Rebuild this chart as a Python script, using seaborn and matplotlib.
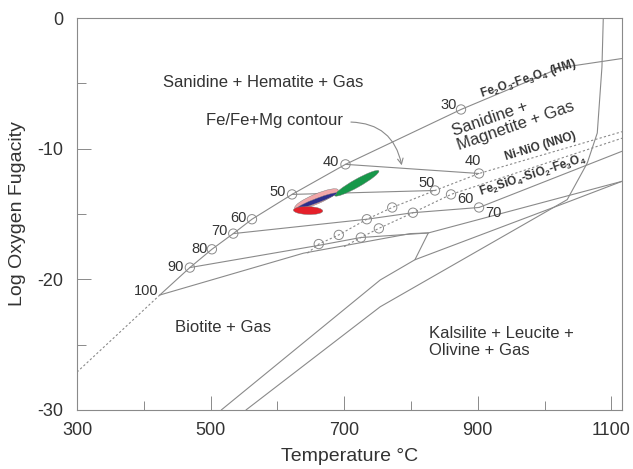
import numpy as np
import pandas as pd
import seaborn as sns
import matplotlib.pyplot as plt
from matplotlib.patches import Ellipse
import matplotlib.transforms as mtransforms

# ---- data (T in degC, log fO2) ----
# upper boundary / HM buffer (dotted part below the 100 end point)
hm_dot_T = [300, 424]
hm_dot_f = [-27.1, -21.2]
hm_T = [424, 469, 502, 534, 562, 622, 702, 875, 1024, 1116]
hm_f = [-21.2, -19.1, -17.7, -16.5, -15.4, -13.5, -11.2, -7.0, -3.8, -3.1]

# Fe/(Fe+Mg) circles on the upper boundary
left_vals = ['90', '80', '70', '60', '50', '40', '30']
left_T = [469, 502, 534, 562, 622, 702, 875]
left_f = [-19.1, -17.7, -16.5, -15.4, -13.5, -11.2, -7.0]

# two dotted buffers (NNO and FMQ) with contour intersections
nno_T = [645, 662, 692, 734, 772, 836, 902, 1116]
nno_f = [-18.0, -17.3, -16.6, -15.4, -14.5, -13.2, -11.9, -8.7]
fmq_T = [700, 725, 752, 803, 860, 1116]
fmq_f = [-17.5, -16.8, -16.1, -14.9, -13.5, -9.2]
nno_circ_T = [662, 692, 734, 772, 836, 902]
nno_circ_f = [-17.3, -16.6, -15.4, -14.5, -13.2, -11.9]
fmq_circ_T = [725, 752, 803, 860, 902]
fmq_circ_f = [-16.8, -16.1, -14.9, -13.5, -14.5]

# contour lines
c40_T, c40_f = [702, 902], [-11.2, -11.9]
c50_T, c50_f = [622, 836], [-13.5, -13.2]
c70_T, c70_f = [534, 734, 803, 902], [-16.5, -15.4, -14.9, -14.5]
c90_T, c90_f = [469, 662, 725, 826], [-19.1, -17.4, -16.8, -16.45]
c100_T, c100_f = [424, 639, 799, 826], [-21.2, -18.0, -16.5, -16.45]

# other phase boundaries
fmq_solid_T, fmq_solid_f = [902, 1116], [-14.5, -10.2]
junc_T, junc_f = [806, 826, 1116], [-18.5, -16.45, -12.5]
low1_T = [516, 754, 806, 1034, 1116]
low1_f = [-30.0, -20.05, -18.5, -14.1, -12.5]
ucurve_T = [553, 754, 1034, 1064, 1079, 1086, 1088]
ucurve_f = [-30.0, -22.1, -13.9, -11.1, -8.8, -3.75, 0.0]

# biotite composition fields: end points (T, fO2) and colour
ell_T1 = [626, 686, 630, 624]
ell_f1 = [-14.55, -13.6, -14.55, -14.7]
ell_T2 = [691, 752, 689, 668]
ell_f2 = [-13.15, -11.7, -13.4, -14.77]
ell_w = [10, 8, 4.5, 8]
ell_col = ['#f2a7a9', '#17984a', '#2d2f8e', '#e5202a']

sns.set_style("ticks")
plt.rcParams['font.family'] = ['Liberation Sans', 'DejaVu Sans']
plt.rcParams['axes.unicode_minus'] = False
plt.rcParams['mathtext.fontset'] = 'custom'
plt.rcParams['mathtext.rm'] = 'Liberation Sans:bold'
plt.rcParams['mathtext.bf'] = 'Liberation Sans:bold'
plt.rcParams['mathtext.default'] = 'bf'

fig = plt.figure(figsize=(6.33, 4.69), dpi=100)
ax = fig.add_axes([0.1216, 0.1258, 0.861, 0.8358])
ax.set_xlim(300, 1116)
ax.set_ylim(-30, 0)

gray = '#8a8a8a'
lw = 0.8

def line(T, f, ls='-'):
    df = pd.DataFrame({'T': T, 'f': f})
    sns.lineplot(data=df, x='T', y='f', sort=False, estimator=None, ax=ax,
                 color=gray, lw=lw, linestyle=ls)

dot = (0, (2, 2))
line(hm_dot_T, hm_dot_f, dot)
line(hm_T, hm_f)
line(nno_T, nno_f, dot)
line(fmq_T, fmq_f, dot)
for T, f in [(c40_T, c40_f), (c50_T, c50_f), (c70_T, c70_f), (c90_T, c90_f),
             (c100_T, c100_f), (fmq_solid_T, fmq_solid_f), (junc_T, junc_f),
             (low1_T, low1_f), (ucurve_T, ucurve_f)]:
    line(T, f)

circ = pd.DataFrame({'T': left_T + nno_circ_T + fmq_circ_T,
                     'f': left_f + nno_circ_f + fmq_circ_f})
sns.scatterplot(data=circ, x='T', y='f', ax=ax, s=45, marker='o',
                facecolor='none', edgecolor=gray, linewidth=0.7, zorder=3)

# ellipses drawn in screen space so their shape does not depend on axis scale
fig.canvas.draw()
for T1, f1, T2, f2, w, c in zip(ell_T1, ell_f1, ell_T2, ell_f2, ell_w, ell_col):
    p1 = ax.transData.transform((T1, f1))
    p2 = ax.transData.transform((T2, f2))
    L = np.hypot(*(p2 - p1))
    ang = np.degrees(np.arctan2(p2[1] - p1[1], p2[0] - p1[0]))
    cT, cf = (T1 + T2) / 2, (f1 + f2) / 2
    tr = fig.dpi_scale_trans + mtransforms.ScaledTranslation(cT, cf, ax.transData)
    e = Ellipse((0, 0), L / fig.dpi, w / fig.dpi, angle=ang, transform=tr,
                facecolor=c, edgecolor='#777777', lw=0.3, zorder=4)
    ax.add_patch(e)

tc = '#333333'
# contour value labels
for txt, x, y in zip(['100', '90', '80', '70', '60', '50', '40', '30'],
                     [403, 447, 483, 513, 541, 601, 680, 856],
                     [-20.9, -19.05, -17.67, -16.29, -15.3, -13.31, -11.02, -6.66]):
    ax.text(x, y, txt, ha='center', va='center', fontsize=10.5, color=tc)
for txt, x, y in zip(['40', '50', '60', '70'],
                     [892, 823, 881, 923],
                     [-10.94, -12.62, -13.85, -14.92]):
    ax.text(x, y, txt, ha='center', va='center', fontsize=10.5, color=tc)

# field labels
ax.text(579, -4.97, 'Sanidine + Hematite + Gas', ha='center', va='center',
        fontsize=12, color=tc)
ax.text(596, -7.88, 'Fe/Fe+Mg contour', ha='center', va='center',
        fontsize=12, color=tc)
ax.text(953, -7.73, 'Sanidine +\nMagnetite + Gas', ha='center', va='center',
        fontsize=12, color=tc, rotation=19, rotation_mode='anchor',
        multialignment='left', linespacing=1.0)
ax.text(519, -23.7, 'Biotite + Gas', ha='center', va='center',
        fontsize=12, color=tc)
ax.text(827, -24.8, 'Kalsilite + Leucite +\nOlivine + Gas', ha='left',
        va='center', fontsize=12, color=tc, linespacing=1.1)

# buffer labels
ax.text(976, -4.67, r'Fe$_2$O$_3$-Fe$_3$O$_4$ (HM)', ha='center', va='center',
        fontsize=8.5, fontweight='bold', color=tc, rotation=18,
        rotation_mode='anchor')
ax.text(994, -9.87, 'Ni-NiO (NNO)', ha='center', va='center', fontsize=8.5,
        fontweight='bold', color=tc, rotation=17, rotation_mode='anchor')
ax.text(982, -12.09, r'Fe$_2$SiO$_4$-SiO$_2$-Fe$_3$O$_4$', ha='center',
        va='center', fontsize=8.5, fontweight='bold', color=tc, rotation=18,
        rotation_mode='anchor')

ax.annotate('', xy=(787, -11.48), xytext=(706, -7.96),
            arrowprops=dict(arrowstyle='->', color=gray, lw=0.8,
                            connectionstyle='angle3,angleA=0,angleB=-80'))

# axes styling
for s in ax.spines.values():
    s.set_color(gray)
    s.set_linewidth(0.8)
ax.set_xticks([300, 500, 700, 900, 1100])
ax.set_xticks([400, 600, 800, 1000], minor=True)
ax.set_yticks([0, -10, -20, -30])
ax.set_yticks([-5, -15, -25], minor=True)
ax.tick_params(which='both', direction='in', color=gray, width=0.7,
               labelsize=13, labelcolor=tc, bottom=True, left=True)
ax.tick_params(which='major', length=10)
ax.tick_params(which='minor', length=6.5)
ax.tick_params(axis='y', pad=10)
ax.tick_params(axis='x', pad=9)
ax.set_xlabel('Temperature °C', fontsize=14, color=tc)
ax.set_ylabel('Log Oxygen Fugacity', fontsize=14, color=tc)
ax.yaxis.set_label_coords(-0.094, 0.5)
ax.xaxis.set_label_coords(0.5, -0.098)

fig.savefig('out.png', dpi=100)
